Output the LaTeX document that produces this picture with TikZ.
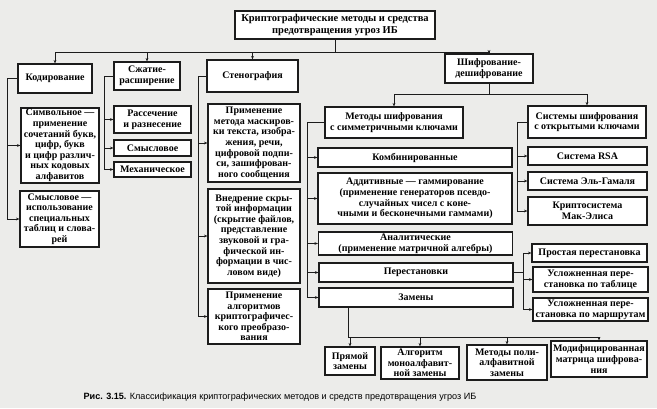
\documentclass[tikz,border=0pt]{standalone}
\usepackage{fontspec}
\setmainfont{Liberation Serif}
\newfontfamily\podpisfont{Liberation Sans}
\usetikzlibrary{arrows.meta,calc}
\definecolor{KlassBumaga}{HTML}{ECECEA}
\definecolor{KlassLinii}{HTML}{1C1C1C}

\begin{document}
\begin{tikzpicture}[x=1pt,y=-1pt,
    blok/.style={draw=KlassLinii,line width=1.1pt,fill=white,align=center,inner sep=1pt,
      font=\bfseries\fontsize{10}{10.6}\selectfont},
    razm/.style 2 args={minimum width=#1pt,minimum height=#2pt},
    strelka/.style={draw=KlassLinii,line width=0.8pt,-{Stealth[length=3.5pt,width=2.8pt]}}]
  \fill[KlassBumaga] (0,0) rectangle (657,408);
  \useasboundingbox (0,0) rectangle (657,408);

  % top level
  \node[blok,razm={200}{28},font=\bfseries\fontsize{10.5}{11.5}\selectfont] (top) at (335,25) {Криптографические методы и средства\\предотвращения угроз ИБ};
  \node[blok,razm={74}{29}] (kod) at (55,78.5) {Кодирование};
  \node[blok,razm={66}{28}] (szh) at (147,76) {Сжатие-\\расширение};
  \node[blok,razm={91}{32}] (sten) at (252.5,76) {Стенография};
  \node[blok,razm={88}{29}] (shifr) at (489,68.5) {Шифрование-\\дешифрование};

  % coding
  \node[blok,razm={78}{75}] (simv) at (60,145.5) {Символьное —\\применение\\сочетаний букв,\\цифр, букв\\и цифр различ-\\ных кодовых\\алфавитов};
  \node[blok,razm={79}{56}] (smysl) at (59.5,219) {Смысловое —\\использование\\специальных\\таблиц и слова-\\рей};

  % compression
  \node[blok,razm={77}{27}] (rass) at (152.5,119.5) {Рассечение\\и разнесение};
  \node[blok,razm={77}{16}] (smyslSzh) at (152.5,148) {Смысловое};
  \node[blok,razm={77}{15}] (meh) at (152.5,169.5) {Механическое};

  % steganography
  \node[blok,razm={92}{78}] (mask) at (254,143) {Применение\\метода маскиров-\\ки текста, изобра-\\жения, речи,\\цифровой подпи-\\си, зашифрован-\\ного сообщения};
  \node[blok,razm={92}{94}] (vnedr) at (254,236) {Внедрение скры-\\той информации\\(скрытие файлов,\\представление\\звуковой и гра-\\фической ин-\\формации в чис-\\ловом виде)};
  \node[blok,razm={92}{55}] (algor) at (254,316.5) {Применение\\алгоритмов\\криптографичес-\\кого преобразо-\\вания};

  % ciphering
  \node[blok,razm={138}{31}] (simm) at (394,122.5) {Методы шифрования\\с симметричными ключами};
  \node[blok,razm={118}{32}] (otkr) at (587,122) {Системы шифрования\\с открытыми ключами};
  \node[blok,razm={194}{19}] (komb) at (415,157.5) {Комбинированные};
  \node[blok,razm={194}{51}] (addit) at (415,198.5) {Аддитивные — гаммирование\\(применение генераторов псевдо-\\случайных чисел с коне-\\чными и бесконечными гаммами)};
  \node[blok,razm={194}{23}] (anal) at (415.5,243.5) {Аналитические\\(применение матричной алгебры)};
  \node[blok,razm={194}{19}] (perest) at (416,272.5) {Перестановки};
  \node[blok,razm={194}{19}] (zam) at (416,297.5) {Замены};
  \node[blok,razm={119}{18}] (rsa) at (587.5,156) {Система RSA};
  \node[blok,razm={119}{18}] (gamal) at (587.5,181) {Система Эль-Гамаля};
  \node[blok,razm={119}{28}] (mak) at (587.5,211) {Криптосистема\\Мак-Элиса};
  \node[blok,razm={115}{18}] (prost) at (589.5,253) {Простая перестановка};
  \node[blok,razm={115}{25}] (tabl) at (590.5,279.5) {Усложненная пере-\\становка по таблице};
  \node[blok,razm={115}{23}] (marsh) at (590.5,309.5) {Усложненная пере-\\становка по маршрутам};
  \node[blok,razm={50}{28}] (pryam) at (350,361) {Прямой\\замены};
  \node[blok,razm={78}{32}] (mono) at (420,363) {Алгоритм\\моноалфавит-\\ной замены};
  \node[blok,razm={80}{35}] (poli) at (507,362.5) {Методы поли-\\алфавитной\\замены};
  \node[blok,razm={96}{36}] (modif) at (599,359) {Модифицированная\\матрица шифрова-\\ния};

  \node[font=\podpisfont\fontsize{9.1}{11}\selectfont] (podpis) at (280,397)
    {\textbf{Рис. 3.15.} Классификация криптографических методов и средств предотвращения угроз ИБ};

  % connectors
  \foreach \n in {kod,szh,sten,shifr}
    \draw[strelka] (top.south) -- ++(0,13) -| (\n.north);
  \foreach \n in {simm,otkr}
    \draw[strelka] (shifr.south) -- ++(0,11) -| (\n.north);
  \foreach \n in {simv,smysl}
    \draw[strelka] (kod.west) -- ++(-10,0) |- (\n.west);
  \foreach \n in {rass,smyslSzh,meh}
    \draw[strelka] (szh.west) -- ++(-9,0) |- (\n.west);
  \foreach \n in {mask,vnedr,algor}
    \draw[strelka] (sten.west) -- ++(-8,0) |- (\n.west);
  \foreach \n in {komb,addit,anal,perest,zam}
    \draw[strelka] (simm.west) -- ++(-17,0) |- (\n.west);
  \foreach \n in {rsa,gamal,mak}
    \draw[strelka] (otkr.west) -- ++(-10,0) |- (\n.west);
  \foreach \n in {prost,tabl,marsh}
    \draw[strelka] (perest.east) -- ++(10,0) |- (\n.west);
  \foreach \n in {pryam,mono,poli,modif}
    \draw[strelka] ([xshift=30pt]zam.south west) -- ++(0,30) -| (\n.north);
\end{tikzpicture}
\end{document}
